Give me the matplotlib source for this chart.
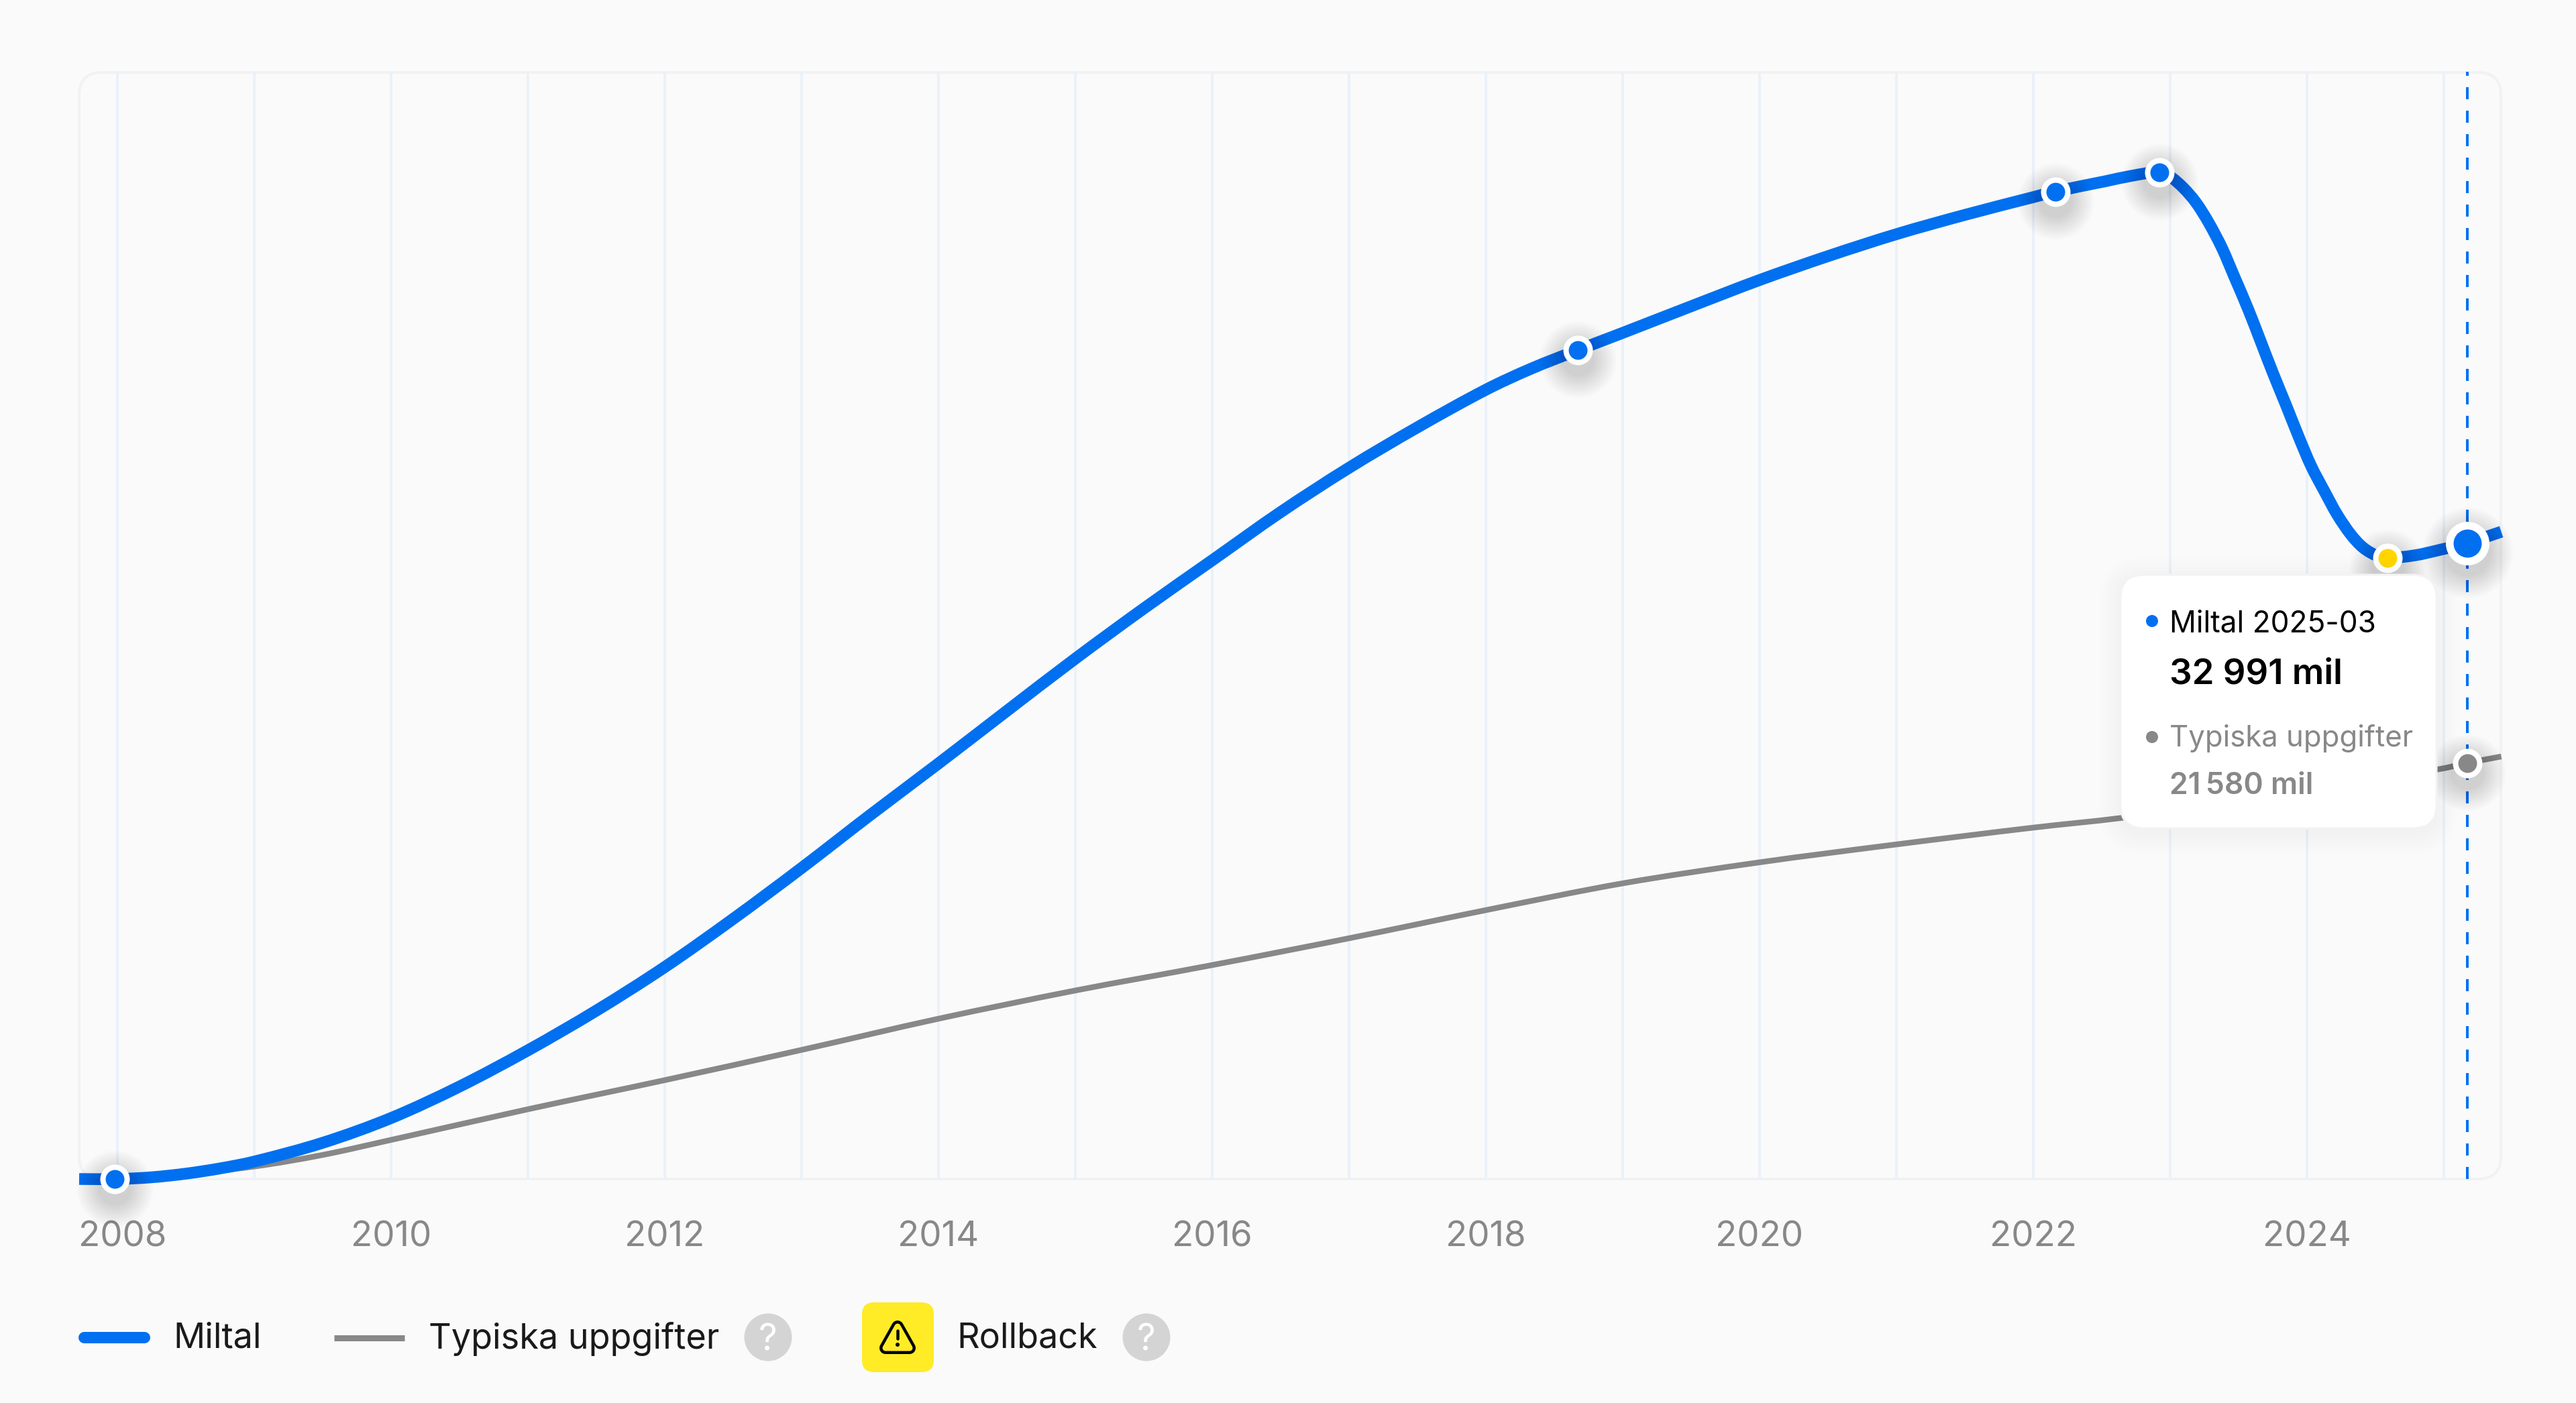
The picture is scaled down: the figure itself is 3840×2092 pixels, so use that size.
import matplotlib
matplotlib.use('Agg')
from matplotlib import pyplot as plt
from matplotlib.patches import FancyBboxPatch, Circle, Polygon, PathPatch
from matplotlib.path import Path
from matplotlib.transforms import ScaledTranslation, offset_copy

plt.rcParams['font.family'] = ['Inter', 'DejaVu Sans']

# kurvor
miltal_years = [2007.72, 2008.0, 2008.25, 2008.5, 2008.75, 2009.0, 2009.5, 2010.0, 2010.5, 2011.0,
                2011.5, 2012.0, 2012.5, 2013.0, 2013.5, 2014.0, 2014.5, 2015.0, 2015.5, 2016.0,
                2016.5, 2017.0, 2017.5, 2018.0, 2018.33, 2018.67, 2019.0, 2019.5, 2020.0, 2020.5, 2021.0,
                2021.5, 2022.0, 2022.16, 2022.53, 2022.72, 2022.92, 2023.0, 2023.1, 2023.19, 2023.28,
                2023.38, 2023.47, 2023.57, 2023.66, 2023.75, 2023.85, 2023.94, 2024.03, 2024.13,
                2024.22, 2024.32, 2024.41, 2024.51, 2024.59, 2024.79, 2024.97, 2025.17, 2025.42]
miltal_values = [0, 0, 90, 278, 550, 905, 1880, 3166, 4800, 6680,
                 8740, 11000, 13500, 16140, 18880, 21560, 24290, 27000, 29600, 32100,
                 34600, 36900, 39000, 40950, 42040, 43000, 43900, 45280, 46640, 47880, 49020,
                 50020, 50940, 51230, 51770, 52050, 52240, 52010, 51400, 50650, 49640,
                 48290, 46800, 45130, 43490, 41840, 40100, 38500, 37000, 35650,
                 34480, 33440, 32760, 32340, 32220, 32360, 32640, 32991, 33580]

typisk_years = [2007.72, 2008.0, 2008.5, 2009.0, 2009.5, 2010.0, 2011.0, 2012.0, 2013.0, 2014.0,
                2015.0, 2016.0, 2017.0, 2018.0, 2019.0, 2020.0, 2021.0, 2022.0, 2022.64,
                2023.0, 2024.0, 2024.97, 2025.17, 2025.42]
typisk_values = [0, 0, 278, 650, 1250, 2030, 3620, 5130, 6700, 8316,
                 9780, 11100, 12490, 13950, 15340, 16430, 17360, 18230, 18730,
                 19120, 20210, 21270, 21580, 21920]

milestone_years = [2007.98, 2018.67, 2022.16, 2022.92]
milestone_values = [0, 43000, 51230, 52240]
rollback_year = [2024.59]
rollback_value = [32220]
hover_year = [2025.17]
hover_miltal = [32991]
hover_typisk = [21580]

grid_years = list(range(2008, 2026))
tick_labels = [str(y) if y % 2 == 0 else '' for y in grid_years]

BLUE = '#0070F0'
GREY = '#888888'
BG = '#FAFAFA'
W, H = 3840, 2092
DPI = 100
PT = 72 / DPI  # px -> pt

fig = plt.figure(figsize=(W / DPI, H / DPI), dpi=DPI, facecolor=BG)

# ram bakom diagrammet
back = fig.add_axes([0, 0, 1, 1], zorder=-1)
back.set_xlim(0, W)
back.set_ylim(H, 0)
back.axis('off')
back.add_patch(FancyBboxPatch((118 + 34, 108 + 34), 3610 - 68, 1650 - 68,
                              boxstyle='round,pad=34,rounding_size=34',
                              fc='none', ec='#F2F2F2', lw=4 * PT))

ax = fig.add_axes([118 / W, (H - 1758) / H, 3610 / W, 1651 / H], zorder=1)
ax.patch.set_visible(False)
for s in ax.spines.values():
    s.set_visible(False)
ax.set_xlim(2007.72, 2025.417)
ax.set_ylim(0, 57446)
ax.set_yticks([])
ax.set_xticks(grid_years)
ax.set_xticklabels(tick_labels, fontsize=38, color=GREY)
ax.tick_params(axis='x', length=0, pad=45)
ax.grid(axis='x', color='#EAF1F9', lw=4 * PT, zorder=0)
ax.set_axisbelow(True)
first = ax.get_xticklabels()[0]
first.set_transform(first.get_transform() + ScaledTranslation(8 / DPI, 0, fig.dpi_scale_trans))


def curve(xs, ys, color, width, zorder):
    # mjuk linje genom de avlästa punkterna
    n = len(xs)
    slopes = [0.0] * n
    for i in range(1, n - 1):
        slopes[i] = (ys[i + 1] - ys[i - 1]) / (xs[i + 1] - xs[i - 1])
    slopes[-1] = (ys[-1] - ys[-2]) / (xs[-1] - xs[-2])
    verts = [(xs[0], ys[0])]
    codes = [Path.MOVETO]
    for i in range(n - 1):
        h = (xs[i + 1] - xs[i]) / 3
        verts += [(xs[i] + h, ys[i] + slopes[i] * h),
                  (xs[i + 1] - h, ys[i + 1] - slopes[i + 1] * h),
                  (xs[i + 1], ys[i + 1])]
        codes += [Path.CURVE4] * 3
    ax.add_patch(PathPatch(Path(verts, codes), fc='none', ec=color, lw=width * PT, capstyle='butt',
                           joinstyle='round', clip_on=False, zorder=zorder))


curve(typisk_years, typisk_values, GREY, 8.5, 2)
curve(miltal_years, miltal_values, BLUE, 17.5, 3)
ax.plot(hover_year * 2, [0, 57446], color=BLUE, lw=4 * PT, dashes=(4.5, 4.25), zorder=2.5)


def dot(xs, ys, color, outer, inner):
    # mjuk skugga under punkten
    shifted = offset_copy(ax.transData, fig=fig, x=0, y=-14, units='dots')
    for k in range(14):
        size = outer + 70 - k * 5
        ax.plot(xs, ys, ls='none', marker='o', ms=size * PT, mfc='black', mec='none', alpha=0.012,
                transform=shifted, clip_on=False, zorder=4)
    ax.plot(xs, ys, ls='none', marker='o', ms=(outer + inner) / 2 * PT, mfc=color, mec='white',
            mew=(outer - inner) / 2 * PT, clip_on=False, zorder=5)


dot(milestone_years, milestone_values, BLUE, 44, 28)
dot(rollback_year, rollback_value, '#FFD600', 44, 28)
dot(hover_year, hover_typisk, GREY, 44, 28)
dot(hover_year, hover_miltal, BLUE, 65, 42)

# tooltip och legend i pixelkoordinater
top = fig.add_axes([0, 0, 1, 1], zorder=2)
top.set_xlim(0, W)
top.set_ylim(H, 0)
top.axis('off')


def rbox(x0, y0, x1, y1, r, **kw):
    top.add_patch(FancyBboxPatch((x0 + r, y0 + r), x1 - x0 - 2 * r, y1 - y0 - 2 * r,
                                 boxstyle=f'round,pad={r},rounding_size={r}', **kw))


for k in range(8):
    g = 32 - k * 4
    rbox(3161 - g, 857 - g + 6, 3632 + g, 1235 + g + 6, 35 + g, fc='black', ec='none', alpha=0.004)
rbox(3161, 857, 3632, 1235, 35, fc='white', ec='#F3F3F3', lw=3 * PT)

top.add_patch(Circle((3208, 926), 9, fc=BLUE, ec='none'))
top.add_patch(Circle((3208, 1099), 9, fc=GREY, ec='none'))
top.text(3234, 926, 'Miltal 2025-03', fontsize=31.8, color='black', va='center_baseline')
top.text(3234, 1000, '32 991 mil', fontsize=38, color='black', weight=600, va='center_baseline')
top.text(3234, 1097, 'Typiska uppgifter', fontsize=31.5, color=GREY, va='center_baseline')
top.text(3234, 1168, '21\u202f580 mil', fontsize=32, color=GREY, weight=600, va='center_baseline')

# legend
top.plot([125, 215], [1994, 1994], color=BLUE, lw=17 * PT, solid_capstyle='round')
top.plot([498, 603], [1994.5, 1994.5], color=GREY, lw=9 * PT, solid_capstyle='butt')
TXT = '#1A1A1A'
top.text(258, 1991, 'Miltal', fontsize=37.6, color=TXT, va='center_baseline')
top.text(639, 1991, 'Typiska uppgifter', fontsize=37.6, color=TXT, va='center_baseline')
top.text(1426, 1991, 'Rollback', fontsize=37.6, color=TXT, va='center_baseline')

for cx in (1145, 1709):
    top.add_patch(Circle((cx, 1994), 35.5, fc='#D4D4D4', ec='none'))
    top.text(cx, 1993, '?', fontsize=39, color='white', ha='center', va='center_baseline')

rbox(1285, 1942, 1392, 2046, 18, fc='#FFEB26', ec='none')
tri = [(1338, 1978), (1320, 2010), (1356, 2010)]
top.add_patch(Polygon(tri, closed=True, fc='black', ec='black', lw=18 * PT, joinstyle='round'))
top.add_patch(Polygon(tri, closed=True, fc='#FFEB26', ec='#FFEB26', lw=9 * PT, joinstyle='round'))
top.plot([1338, 1338], [1984, 1996], color='black', lw=4.5 * PT, solid_capstyle='round')
top.add_patch(Circle((1338, 2005), 3, fc='black', ec='none'))

fig.savefig('out.png', dpi=DPI, facecolor=BG)
